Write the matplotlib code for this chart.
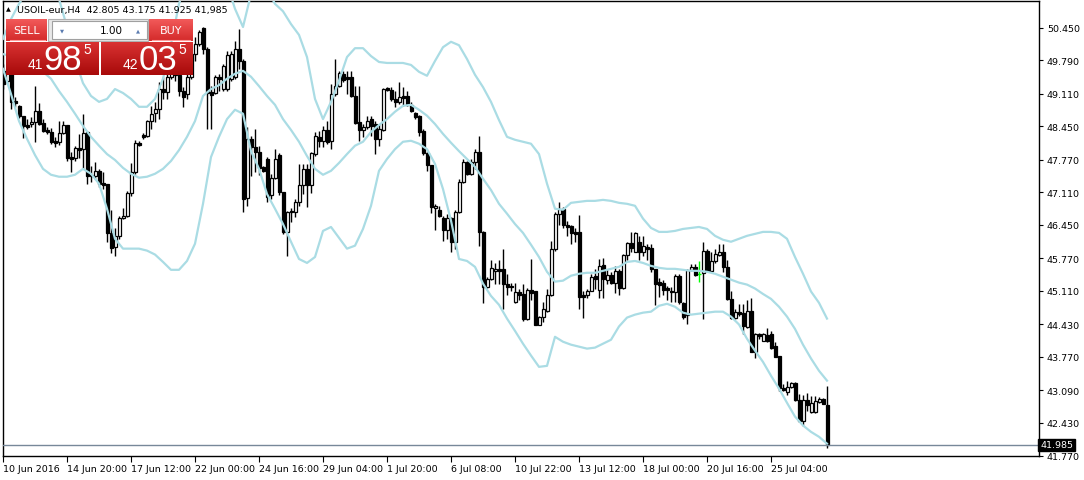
import numpy as np
import matplotlib
matplotlib.use("Agg")
import matplotlib.pyplot as plt
from matplotlib.patches import Rectangle

W, H = 1084, 481

# H4 candles, USOIL-eur
opens = [49.58, 49.38, 49.52, 48.97, 48.87, 48.67, 48.48, 48.51, 48.55, 48.77,
         48.53, 48.38, 48.34, 48.16, 48.14, 48.32, 48.48, 47.84, 47.82, 48.02,
         48.00, 48.34, 47.47, 47.45, 47.55, 47.31, 47.29, 46.29, 46.01, 46.23,
         46.60, 46.64, 47.09, 47.53, 48.12, 48.28, 48.26, 48.57, 48.73, 48.81,
         49.21, 49.15, 49.46, 49.78, 49.50, 49.17, 49.11, 49.46, 49.92, 50.13,
         50.45, 50.03, 49.15, 49.13, 49.46, 49.21, 49.21, 49.42, 49.46, 50.03,
         49.78, 47.00, 48.20, 48.04, 47.94, 47.63, 47.80, 47.05, 47.41, 47.88,
         47.13, 46.31, 46.74, 46.72, 46.92, 47.27, 47.59, 47.27, 47.90, 48.24,
         48.16, 48.38, 48.16, 49.11, 49.28, 49.52, 49.46, 49.46, 49.07, 48.55,
         48.38, 48.44, 48.61, 48.51, 48.20, 48.38, 49.23, 49.19, 49.01, 48.95,
         49.07, 49.07, 48.89, 48.73, 48.67, 48.36, 47.92, 47.67, 46.80, 46.76,
         46.60, 46.34, 46.60, 46.11, 46.72, 47.33, 47.73, 47.49, 47.73, 47.94,
         46.31, 45.20, 45.36, 45.52, 45.56, 45.56, 45.26, 45.22, 44.89, 45.08,
         45.04, 44.55, 45.14, 45.10, 44.41, 44.59, 44.71, 45.02, 45.97, 46.68,
         46.78, 46.46, 46.42, 46.31, 46.31, 45.02, 45.02, 45.10, 45.42, 45.14,
         45.63, 45.34, 45.44, 45.28, 45.52, 45.18, 45.85, 46.09, 45.91, 46.11,
         45.91, 46.01, 45.99, 45.56, 45.30, 45.28, 45.18, 45.10, 45.08, 45.42,
         44.87, 44.63, 45.54, 45.60, 45.46, 45.48, 45.93, 45.52, 45.71, 45.85,
         45.91, 45.60, 44.94, 44.57, 44.69, 44.67, 44.37, 44.71, 43.88, 44.23,
         44.10, 44.21, 44.23, 44.00, 43.80, 43.15, 43.05, 43.17, 43.25, 42.89,
         42.48, 42.89, 42.66, 42.66, 42.85, 42.91, 42.805]
highs = [49.72, 49.82, 49.62, 49.05, 48.89, 48.67, 48.61, 48.65, 49.28, 48.93,
         48.61, 48.44, 48.42, 48.24, 48.57, 48.57, 48.48, 47.94, 48.06, 48.30,
         48.71, 48.36, 47.65, 47.73, 47.59, 47.53, 47.29, 46.76, 46.38, 46.64,
         46.80, 47.15, 47.71, 48.18, 48.16, 48.32, 48.59, 48.87, 48.95, 49.36,
         49.46, 49.54, 49.92, 49.86, 49.62, 49.26, 49.54, 50.03, 50.27, 50.41,
         50.47, 50.07, 49.28, 49.50, 49.52, 49.72, 49.99, 49.99, 50.19, 50.43,
         49.82, 48.44, 48.26, 48.40, 48.06, 47.65, 47.84, 47.49, 48.00, 47.92,
         47.13, 46.74, 46.80, 46.98, 47.69, 47.69, 47.69, 47.94, 48.34, 48.36,
         48.46, 48.57, 49.32, 49.82, 49.58, 49.58, 49.58, 49.58, 49.28, 49.28,
         48.51, 48.67, 48.67, 48.57, 48.51, 49.23, 49.26, 49.26, 49.17, 49.36,
         49.26, 49.17, 48.95, 48.75, 48.69, 48.40, 47.94, 47.67, 46.88, 46.84,
         46.64, 46.68, 46.62, 46.76, 47.39, 47.80, 47.75, 47.80, 48.00, 48.26,
         46.33, 45.40, 45.73, 45.67, 45.73, 45.97, 45.46, 45.28, 45.28, 45.16,
         45.26, 45.18, 45.75, 45.10, 44.61, 44.89, 45.16, 46.13, 46.72, 46.92,
         46.82, 46.54, 46.46, 46.38, 46.66, 45.10, 45.16, 45.46, 45.56, 45.75,
         45.77, 45.56, 45.50, 45.61, 45.56, 45.87, 46.11, 46.31, 46.31, 46.23,
         46.23, 46.07, 46.07, 45.56, 45.38, 45.34, 45.22, 45.20, 45.46, 45.46,
         44.89, 45.56, 45.65, 45.65, 45.71, 46.11, 45.97, 45.91, 45.97, 46.07,
         46.07, 45.73, 45.12, 44.75, 44.85, 44.85, 44.92, 44.96, 44.25, 44.25,
         44.25, 44.35, 44.29, 44.08, 43.80, 43.23, 43.29, 43.27, 43.27, 43.01,
         42.99, 43.03, 42.97, 42.97, 42.95, 42.93, 43.175]
lows = [49.21, 49.32, 48.81, 48.85, 48.63, 48.22, 48.40, 48.44, 48.14, 48.48,
        48.34, 48.30, 48.10, 48.04, 48.08, 48.30, 47.75, 47.53, 47.75, 47.82,
        47.59, 47.29, 47.33, 47.39, 47.23, 47.19, 46.11, 45.89, 45.83, 46.17,
        46.58, 46.62, 47.04, 47.49, 48.06, 48.20, 48.24, 48.40, 48.55, 48.61,
        49.01, 49.01, 49.42, 49.38, 49.07, 48.85, 49.01, 49.42, 49.78, 50.09,
        49.92, 48.40, 48.40, 49.11, 49.17, 49.17, 49.17, 49.38, 49.42, 49.62,
        46.72, 46.84, 47.45, 47.53, 47.47, 47.53, 46.92, 46.98, 47.39, 47.05,
        46.27, 45.83, 46.52, 46.62, 46.84, 47.07, 46.82, 47.09, 47.86, 48.04,
        48.04, 48.10, 48.00, 49.07, 49.26, 49.36, 49.11, 49.05, 48.51, 48.16,
        48.24, 48.40, 48.26, 47.90, 48.06, 48.36, 49.17, 48.97, 48.85, 48.91,
        48.87, 48.87, 48.75, 48.61, 48.26, 47.88, 47.55, 46.70, 46.34, 46.62,
        46.13, 46.17, 45.91, 45.97, 46.70, 47.31, 47.47, 47.47, 47.59, 46.03,
        44.87, 45.18, 45.34, 45.26, 45.26, 44.75, 45.02, 45.10, 44.87, 44.92,
        44.51, 44.53, 44.92, 44.41, 44.41, 44.49, 44.69, 45.00, 45.93, 46.44,
        46.38, 46.23, 46.07, 46.11, 44.75, 44.57, 44.96, 45.10, 45.16, 44.96,
        44.96, 45.26, 45.26, 45.06, 45.02, 45.16, 45.73, 45.91, 45.91, 45.73,
        45.83, 45.73, 45.50, 44.83, 44.98, 45.02, 44.92, 44.89, 44.89, 44.85,
        44.55, 44.43, 45.52, 45.42, 45.30, 44.55, 45.50, 45.50, 45.67, 45.83,
        45.50, 44.92, 44.55, 44.55, 44.61, 44.23, 44.35, 43.88, 43.74, 44.14,
        44.10, 44.08, 43.94, 43.76, 43.07, 43.07, 42.99, 43.15, 42.87, 42.46,
        42.36, 42.68, 42.64, 42.64, 42.83, 42.81, 41.925]
closes = [49.32, 49.62, 48.95, 48.93, 48.67, 48.46, 48.44, 48.55, 48.77, 48.51,
          48.36, 48.34, 48.14, 48.12, 48.32, 48.48, 47.82, 47.80, 48.02, 47.98,
          48.32, 47.45, 47.45, 47.55, 47.29, 47.27, 46.29, 45.99, 46.23, 46.60,
          46.64, 47.09, 47.53, 48.12, 48.08, 48.24, 48.57, 48.71, 48.81, 49.21,
          49.15, 49.46, 49.78, 49.50, 49.17, 49.05, 49.46, 49.92, 50.13, 50.37,
          50.03, 49.13, 49.09, 49.46, 49.42, 49.68, 49.90, 49.92, 50.03, 49.78,
          46.98, 48.20, 48.04, 47.94, 47.61, 47.55, 47.02, 47.41, 47.80, 47.13,
          46.31, 46.72, 46.72, 46.92, 47.27, 47.59, 47.27, 47.92, 48.26, 48.16,
          48.38, 48.14, 49.11, 49.28, 49.54, 49.40, 49.42, 49.07, 48.53, 48.38,
          48.44, 48.57, 48.46, 48.20, 48.40, 49.21, 49.19, 49.01, 48.95, 49.05,
          49.03, 48.89, 48.77, 48.65, 48.34, 47.92, 47.67, 46.82, 46.84, 46.64,
          46.34, 46.60, 46.11, 46.72, 47.33, 47.73, 47.49, 47.73, 47.94, 46.31,
          45.20, 45.36, 45.58, 45.56, 45.52, 45.26, 45.20, 45.20, 45.08, 45.02,
          44.55, 45.14, 45.06, 44.41, 44.59, 44.75, 45.02, 45.97, 46.68, 46.78,
          46.46, 46.40, 46.29, 46.27, 44.98, 44.98, 45.10, 45.40, 45.36, 45.61,
          45.36, 45.44, 45.28, 45.52, 45.18, 45.85, 46.09, 45.99, 46.29, 45.91,
          46.03, 45.97, 45.56, 45.26, 45.24, 45.14, 45.14, 45.08, 45.42, 44.89,
          44.59, 45.54, 45.60, 45.44, 45.46, 45.93, 45.52, 45.71, 45.87, 45.91,
          45.60, 44.94, 44.57, 44.69, 44.65, 44.39, 44.71, 43.88, 44.23, 44.19,
          44.23, 44.10, 43.96, 43.78, 43.15, 43.11, 43.17, 43.25, 42.89, 42.48,
          42.89, 42.79, 42.83, 42.87, 42.91, 42.81, 41.985]

# Bollinger bands (20, 2)
band_idx = list(range(0, 207, 2))
bb_upper = [50.23, 50.63, 50.94, 51.20, 51.34, 51.44, 51.44, 51.04, 50.47, 49.82,
            49.33, 49.07, 48.95, 49.01, 49.21, 49.13, 49.01, 48.85, 48.85, 49.01,
            49.42, 50.12, 50.94, 51.44, 51.65, 51.75, 51.75, 51.65, 51.34, 50.84,
            50.47, 51.14, 51.34, 51.24, 50.94, 50.79, 50.53, 50.31, 49.86, 49.01,
            48.60, 48.95, 49.38, 49.86, 50.04, 50.04, 49.88, 49.76, 49.74, 49.74,
            49.74, 49.70, 49.56, 49.48, 49.78, 50.06, 50.17, 50.10, 49.82, 49.50,
            49.25, 48.95, 48.58, 48.24, 48.18, 48.14, 48.10, 47.89, 47.29, 46.78,
            46.76, 46.90, 46.92, 46.94, 46.94, 46.96, 46.94, 46.90, 46.88, 46.84,
            46.58, 46.39, 46.31, 46.31, 46.33, 46.37, 46.39, 46.41, 46.37, 46.23,
            46.15, 46.11, 46.17, 46.23, 46.27, 46.31, 46.31, 46.29, 46.17, 45.80,
            45.46, 45.10, 44.87, 44.55]
bb_middle = [49.92, 49.88, 49.82, 49.76, 49.66, 49.56, 49.42, 49.17, 48.95, 48.71,
             48.46, 48.24, 48.06, 47.89, 47.77, 47.61, 47.49, 47.41, 47.43, 47.49,
             47.59, 47.75, 47.97, 48.24, 48.56, 49.07, 49.21, 49.29, 49.42, 49.52,
             49.58, 49.46, 49.27, 49.07, 48.89, 48.60, 48.38, 48.14, 47.85, 47.59,
             47.47, 47.55, 47.71, 47.89, 48.06, 48.14, 48.34, 48.48, 48.60, 48.75,
             48.87, 48.89, 48.79, 48.67, 48.50, 48.30, 48.12, 47.95, 47.79, 47.63,
             47.39, 47.16, 46.88, 46.68, 46.47, 46.29, 46.05, 45.80, 45.50, 45.30,
             45.32, 45.42, 45.46, 45.48, 45.48, 45.52, 45.56, 45.60, 45.70, 45.72,
             45.68, 45.62, 45.58, 45.56, 45.56, 45.54, 45.52, 45.52, 45.50, 45.46,
             45.40, 45.34, 45.28, 45.24, 45.16, 45.05, 44.95, 44.79, 44.59, 44.34,
             44.02, 43.74, 43.49, 43.29]
bb_lower = [49.62, 49.11, 48.56, 48.20, 47.87, 47.59, 47.47, 47.43, 47.43, 47.47,
            47.59, 47.49, 47.29, 46.78, 46.17, 45.97, 45.97, 45.97, 45.93, 45.85,
            45.70, 45.54, 45.54, 45.72, 46.07, 46.88, 47.83, 48.24, 48.60, 48.79,
            48.71, 47.95, 47.59, 47.08, 46.78, 46.47, 46.11, 45.76, 45.68, 45.80,
            46.33, 46.41, 46.19, 45.97, 46.03, 46.37, 46.84, 47.55, 47.79, 47.99,
            48.14, 48.16, 48.10, 47.99, 47.69, 47.18, 46.54, 45.76, 45.72, 45.60,
            45.26, 45.01, 44.83, 44.55, 44.30, 44.04, 43.80, 43.57, 43.59, 44.18,
            44.08, 44.02, 43.98, 43.94, 43.96, 44.04, 44.12, 44.39, 44.57, 44.63,
            44.67, 44.69, 44.81, 44.85, 44.79, 44.67, 44.63, 44.65, 44.67, 44.69,
            44.69, 44.59, 44.43, 44.14, 43.90, 43.67, 43.39, 43.13, 42.84, 42.56,
            42.38, 42.25, 42.15, 42.01]

price_ticks = [50.450, 49.790, 49.110, 48.450, 47.770, 47.110, 46.450,
               45.770, 45.110, 44.430, 43.770, 43.090, 42.430, 41.770]
time_labels = ['10 Jun 2016', '14 Jun 20:00', '17 Jun 12:00', '22 Jun 00:00',
               '24 Jun 16:00', '29 Jun 04:00', '1 Jul 20:00', '6 Jul 08:00',
               '10 Jul 22:00', '13 Jul 12:00', '18 Jul 00:00', '20 Jul 16:00',
               '25 Jul 04:00']
bid = 41.985

o = np.array(opens); h = np.array(highs); l = np.array(lows); c = np.array(closes)
x = np.arange(len(o))

fig = plt.figure(figsize=(W / 100, H / 100), dpi=100)
fig.patch.set_facecolor('white')
ax = fig.add_axes([2.5 / W, (H - 456.5) / H, 1036 / W, 454.5 / H])
ax.set_xlim(-0.125, 258.875)
ax.set_ylim(41.77, 50.998)

up = c > o
down = c < o
doji = c == o

# wicks
ax.vlines(x[~doji], l[~doji], h[~doji], color='black', lw=1, zorder=2)
ax.vlines(x[doji], l[doji], h[doji], color='#00ff00', lw=1, zorder=2)
ax.hlines(c[doji], x[doji] - 0.4, x[doji] + 0.4, color='#00ff00', lw=1, zorder=2)
# bodies
ax.bar(x[up], (c - o)[up], bottom=o[up], width=0.75, color='white',
       edgecolor='black', linewidth=0.9, zorder=3)
ax.bar(x[down], (o - c)[down], bottom=c[down], width=0.75, color='black',
       edgecolor='black', linewidth=0.9, zorder=3)

band_col = '#aadce4'
for band in (bb_upper, bb_middle, bb_lower):
    ax.plot(band_idx, band, color=band_col, lw=1.6, zorder=4,
            solid_joinstyle='round')

# bid line
ax.axhline(bid, color='#778899', lw=1, zorder=5)
ax.text(1.0015, bid, '%.3f' % bid, transform=ax.get_yaxis_transform(),
        ha='left', va='center', color='white', fontsize=6.8,
        bbox=dict(facecolor='black', edgecolor='black', pad=1.2), zorder=6)

ax.yaxis.tick_right()
ax.set_yticks(price_ticks)
ax.set_yticklabels(['%.3f' % p for p in price_ticks])
ax.set_xticks(np.arange(0, 16 * len(time_labels), 16))
ax.set_xticklabels(time_labels, ha='left')
ax.tick_params(axis='y', direction='out', length=3, width=0.8, pad=3,
               labelsize=6.8, colors='black')
ax.tick_params(axis='x', direction='out', length=4, width=0.8, pad=2,
               labelsize=6.8, colors='black')
for lab in ax.get_xticklabels():
    lab.set_horizontalalignment('left')
for s in ax.spines.values():
    s.set_linewidth(1)
    s.set_color('black')

# header text and one-click trading panel (pixel coordinates overlay)
ov = fig.add_axes([0, 0, 1, 1], zorder=10)
ov.set_xlim(0, W)
ov.set_ylim(H, 0)
ov.axis('off')
ov.patch.set_alpha(0)

ov.text(6, 10, '\u25b2', fontsize=4.5, ha='left', va='center', color='black')
ov.text(17, 10, 'USOIL-eur,H4  42.805 43.175 41.925 41,985', fontsize=6.8,
        ha='left', va='center', color='black')


def grad(x0, x1, y0, y1, top, bottom):
    g = np.linspace(0, 1, 50)[:, None, None]
    t = np.array(matplotlib.colors.to_rgb(top))[None, None, :]
    b = np.array(matplotlib.colors.to_rgb(bottom))[None, None, :]
    img = t * (1 - g) + b * g
    ov.imshow(img, extent=(x0, x1, y1, y0), aspect='auto', zorder=1,
              interpolation='bilinear')


# sell / buy buttons
grad(6, 47, 20, 42, '#f25a5a', '#d42a2a')
grad(149, 193, 20, 42, '#f25a5a', '#d42a2a')
ov.plot([10, 45], [40.5, 40.5], color='#ff9a9a', lw=0.8, zorder=2)
ov.plot([152, 190], [40.5, 40.5], color='#ff9a9a', lw=0.8, zorder=2)
ov.text(26.5, 30.5, 'SELL', color='white', fontsize=8, ha='center', va='center',
        family='DejaVu Sans', zorder=3)
ov.text(171, 30.5, 'BUY', color='white', fontsize=8, ha='center', va='center',
        family='DejaVu Sans', zorder=3)

# lot box
ov.add_patch(Rectangle((48, 19.5), 100, 22, facecolor='#e8e8e8',
                       edgecolor='#b0b0b0', lw=0.8, zorder=1))
ov.add_patch(Rectangle((52, 21.5), 95, 18, facecolor='white',
                       edgecolor='#a0a0a0', lw=0.8, zorder=2))
grad(53, 70, 22.5, 39, '#f6f6f6', '#d6d6d6')
grad(129, 146, 22.5, 39, '#f6f6f6', '#d6d6d6')
ov.text(61.5, 31, '\u25bc', fontsize=3.8, color='#5a7bb0', ha='center',
        va='center', zorder=3)
ov.text(137.5, 30.5, '\u25b2', fontsize=3.8, color='#5a7bb0', ha='center',
        va='center', zorder=3)
ov.text(123, 30.5, '1.00', fontsize=7.5, color='black', ha='right',
        va='center', zorder=3)

# price boxes
grad(6, 99, 43, 76, '#d93232', '#a80a0a')
grad(101, 193, 43, 76, '#d93232', '#a80a0a')
for bx, big, small in ((6, '98', '41'), (101, '03', '42')):
    ov.text(bx + 37, 65, small, fontsize=10, color='white', ha='right',
            va='center', family='Liberation Sans', zorder=3)
    ov.text(bx + 57, 60, big, fontsize=25, color='white', ha='center',
            va='center', family='Liberation Sans', zorder=3)
    ov.text(bx + 81, 50, '5', fontsize=10, color='white', ha='center',
            va='center', family='Liberation Sans', zorder=3)

fig.savefig('out.png', dpi=100, facecolor='white')
